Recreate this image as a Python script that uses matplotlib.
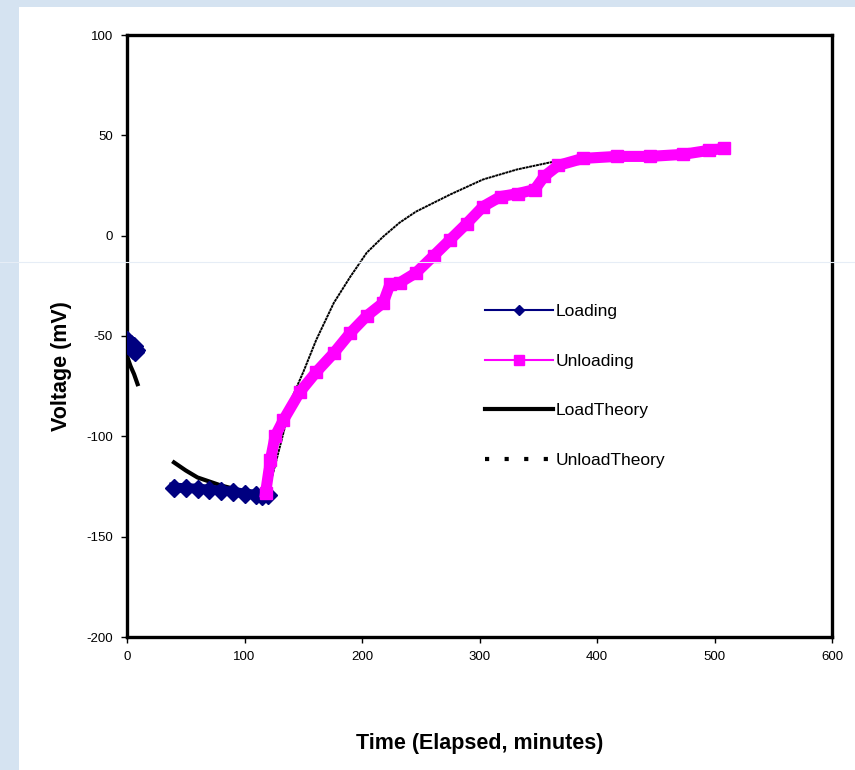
import numpy as np
import matplotlib
matplotlib.use("Agg")
import matplotlib.pyplot as plt
from matplotlib.lines import Line2D
from matplotlib.patches import Rectangle

plt.rcParams['font.family'] = ['Liberation Sans', 'DejaVu Sans']
plt.rcParams['axes.unicode_minus'] = False

# data (nan = gap in the series)
load_t = [0, 1, 2, 3, 4, 5, 6, 7, 8, np.nan,
          40, 50, 60, 70, 80, 90, 100, 110, 115, 120]
load_v = [-52, -53, -55, -54, -56, -57, -55, -58, -57, np.nan,
          -125.5, -125.8, -126, -126.5, -127, -127.5, -128.5, -129, -129.5, -129]

unload_t = [118, 122, 126, 133, 147, 161, 176, 190, 204, 218, 224, 232, 246,
            261, 275, 289, 303, 318, 333, 347, 355, 367, 388, 417, 445, 473, 495, 508]
unload_v = [-128, -112, -100, -92, -78, -68, -58.5, -48.5, -40, -33.5, -24, -23.5, -18.5,
            -10, -2, 6, 14.5, 19.5, 21, 23, 29.5, 35, 38.5, 39.5, 39.5, 40.5, 42.5, 43.5]

loadth_t = [0, 3, 6, 9, np.nan, 40, 50, 60, 70, 80, 90]
loadth_v = [-60, -65, -69, -74, np.nan, -113, -117, -120.5, -122.5, -124.5, -126]

unloadth_t = [120, 128, 135, 141, 150, 161, 176, 190, 204, 218, 232, 246, 275, 303, 332, 360, 366]
unloadth_v = [-128, -110, -94, -80, -68, -52, -33.5, -20.5, -8.5, -0.5, 6.5, 12, 20.5, 28, 33, 36.5, 37]

x_ticks = [0, 100, 200, 300, 400, 500, 600]
y_ticks = [-200, -150, -100, -50, 0, 50, 100]

fig = plt.figure(figsize=(8.55, 7.7), dpi=100)
fig.patch.set_facecolor('#d5e3f1')
fig.add_artist(Rectangle((19 / 855, 0), 1, 1 - 7 / 770, transform=fig.transFigure,
                         facecolor='white', edgecolor='none', zorder=0))
fig.add_artist(Line2D([0, 1], [1 - 262 / 770] * 2, transform=fig.transFigure,
                      color='#e6edf6', lw=0.8, zorder=0.5))

ax = fig.add_axes([127 / 855, 1 - 637 / 770, 705 / 855, 602 / 770])
ax.set_facecolor('none')

ax.plot(loadth_t, loadth_v, color='black', lw=3, zorder=2)
ax.plot(unloadth_t, unloadth_v, color='black', lw=1.4, ls=(0, (1.5, 0.3)), zorder=2)
ax.plot(load_t, load_v, color='#000080', lw=7, marker='D', ms=9, zorder=3)
ax.plot(unload_t, unload_v, color='#ff00ff', lw=8, marker='s', ms=8, zorder=4)

ax.set_xlim(0, 600)
ax.set_ylim(-200, 100)
ax.set_xticks(x_ticks)
ax.set_yticks(y_ticks)
ax.tick_params(direction='out', length=4, width=1, labelsize=9.5, pad=6)
for s in ax.spines.values():
    s.set_linewidth(2.4)
    s.set_color('black')

ax.set_ylabel('Voltage (mV)', fontsize=15.5, fontweight='bold')
ax.yaxis.set_label_coords(-0.078, 0.45)
ax.set_xlabel('Time (Elapsed, minutes)', fontsize=15.5, fontweight='bold')
ax.xaxis.set_label_coords(0.5, -0.16)

handles = [
    Line2D([], [], color='#000080', lw=1.5, marker='D', ms=5),
    Line2D([], [], color='#ff00ff', lw=1.5, marker='s', ms=7),
    Line2D([], [], color='black', lw=3),
    Line2D([], [], color='black', lw=3, ls=(0, (1, 3.7))),
]
labels = ['Loading', 'Unloading', 'LoadTheory', 'UnloadTheory']
fig.legend(handles, labels, loc='upper left', bbox_to_anchor=(478 / 855, 1 - 297 / 770),
           frameon=False, fontsize=12.5, handlelength=3.9, handletextpad=0.15,
           labelspacing=1.98, borderaxespad=0)

fig.savefig('out.png', dpi=100, facecolor=fig.get_facecolor())
